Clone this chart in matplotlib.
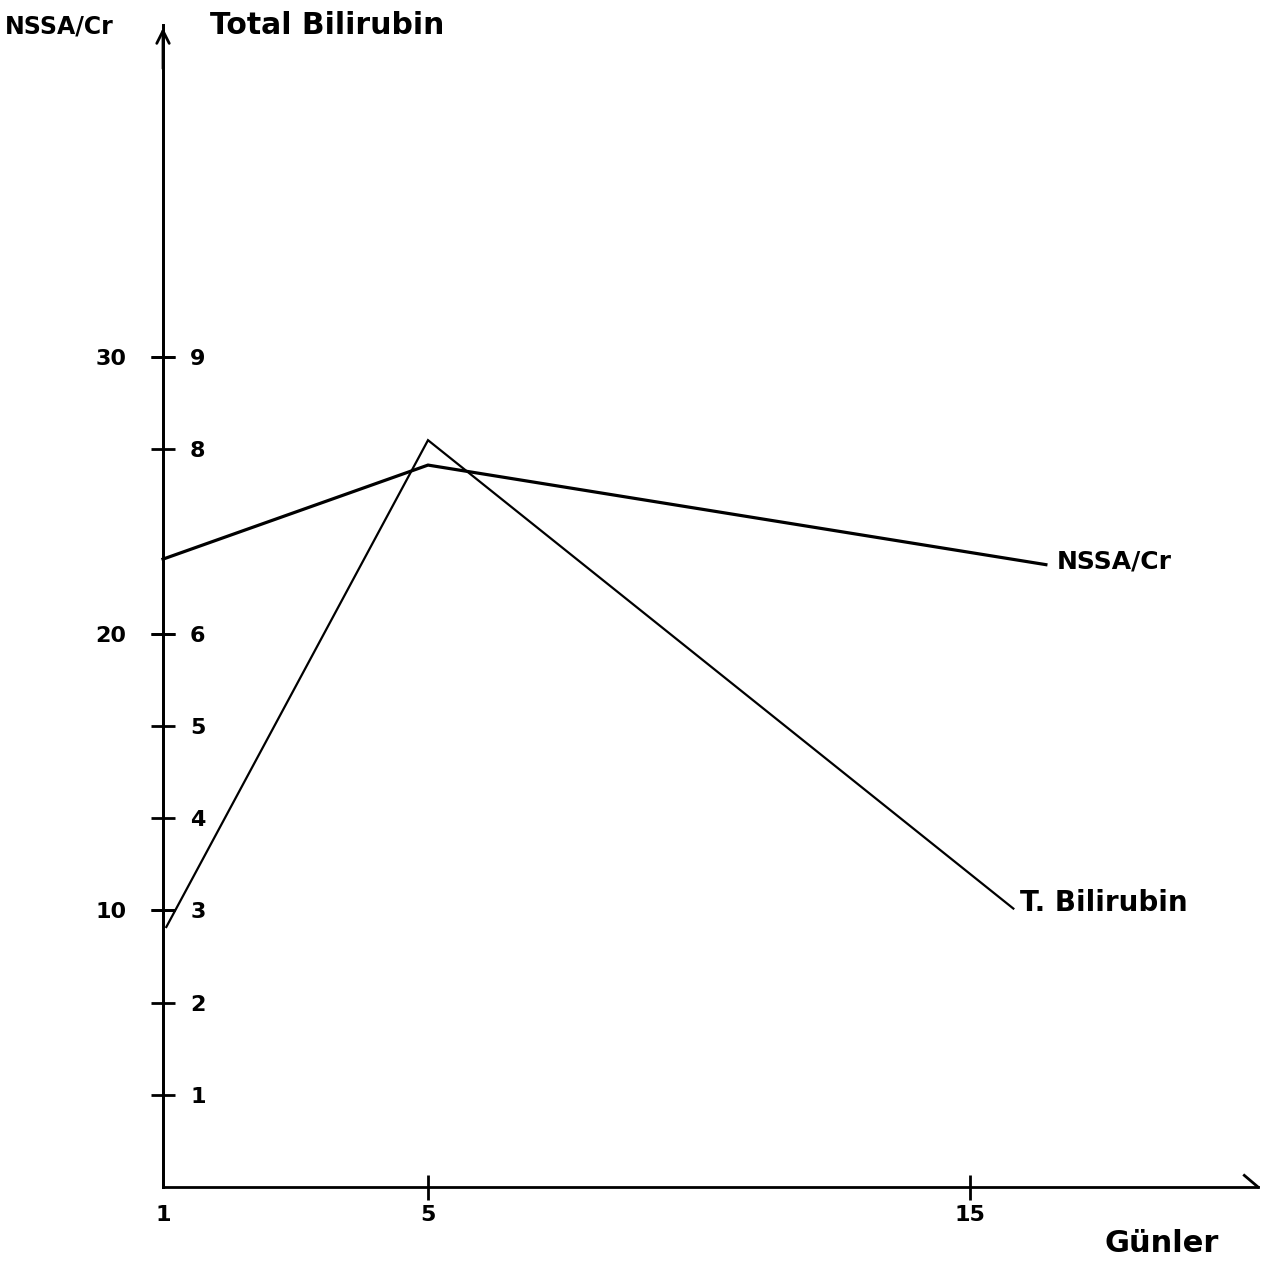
import numpy as np
import matplotlib
matplotlib.use("Agg")
import matplotlib.pyplot as plt

# ---- data ----
nssa_days = [1, 5, 16.4]
nssa_vals = [22.7, 26.1, 22.5]
bili_days = [1.05, 5, 15.8]
bili_vals = [2.82, 8.1, 3.02]

x_ticks = [1, 5, 15]
x_ticklabels = ["1", "5", "15"]
nssa_ticks = [10, 20, 30]
bili_ticks = [1, 2, 3, 4, 5, 6, 8, 9]

# hand-drawn, uneven day axis: piecewise linear scale
_kd = np.array([-100.0, 1.0, 5.0, 15.0, 200.0])
_kp = np.array([-101 * 66.25, 0.0, 265.0, 807.0, 807.0 + 185 * 54.2])

def fwd(x):
    return np.interp(x, _kd, _kp)

def inv(p):
    return np.interp(p, _kp, _kd)

W, H = 1272, 1262
fig = plt.figure(figsize=(W / 100, H / 100), dpi=100)
fig.patch.set_facecolor("white")

x0, y0 = 163, 1187
x1, y1 = 1258, 25
ax = fig.add_axes([x0 / W, 1 - y0 / H, (x1 - x0) / W, (y0 - y1) / H])
bili_top = (y0 - y1) / 92.2
ax.set_xscale("function", functions=(fwd, inv))
ax.set_xlim(1, inv(x1 - x0))
ax.set_ylim(0, bili_top * 10 / 3)
ax.patch.set_alpha(0)

ax2 = ax.twinx()
ax2.set_ylim(0, bili_top)
ax2.spines["right"].set_position(("axes", 0))

for a in (ax, ax2):
    a.spines["top"].set_visible(False)
ax.spines["right"].set_visible(False)
ax2.spines["left"].set_visible(False)
ax2.spines["bottom"].set_visible(False)
ax.spines["left"].set_linewidth(2.0)
ax.spines["bottom"].set_linewidth(2.0)
ax2.spines["right"].set_linewidth(2.0)

tfont = dict(fontsize=16, fontweight="bold", family="DejaVu Sans")

ax.set_xticks(x_ticks)
ax.set_xticklabels(x_ticklabels, **tfont)
ax.xaxis.set_minor_locator(matplotlib.ticker.NullLocator())
ax.tick_params(axis="x", direction="inout", length=18, width=2, pad=4)
ax.xaxis.get_major_ticks()[0].tick1line.set_visible(False)

ax.set_yticks(nssa_ticks)
ax.set_yticklabels([str(v) for v in nssa_ticks], **tfont)
ax.tick_params(axis="y", direction="inout", length=17, width=2, pad=18)

ax2.set_yticks(bili_ticks)
ax2.set_yticklabels([str(v) for v in bili_ticks], **tfont)
ax2.tick_params(axis="y", direction="inout", length=17, width=2, pad=11)

# lines
ax.plot(nssa_days, nssa_vals, color="black", lw=2.3, solid_joinstyle="miter", clip_on=False)
ax2.plot(bili_days, bili_vals, color="black", lw=1.6, solid_joinstyle="miter", clip_on=False)

# end labels
ax.annotate("NSSA/Cr", xy=(nssa_days[-1], nssa_vals[-1]), xytext=(8, 2),
            textcoords="offset points", ha="left", va="center",
            fontsize=18, fontweight="bold")
ax2.annotate("T. Bilirubin", xy=(bili_days[-1], bili_vals[-1]), xytext=(5, 4),
             textcoords="offset points", ha="left", va="center",
             fontsize=20, fontweight="bold")

# axis arrows
ax.annotate("", xy=(0, 1.0), xycoords="axes fraction", xytext=(0, 0.96),
            arrowprops=dict(arrowstyle="->,head_length=0.9,head_width=0.45", lw=2, color="black"))
ax.plot([0.9875, 1.0], [0.010, 0.0], transform=ax.transAxes, color="black", lw=2, clip_on=False)

# titles
fig.text(5 / W, 1 - 27 / H, "NSSA/Cr", fontsize=17, fontweight="bold", ha="left", va="center")
fig.text(210 / W, 1 - 25 / H, "Total Bilirubin", fontsize=21.5, fontweight="bold", ha="left", va="center")
fig.text(1105 / W, 1 - 1243 / H, "Günler", fontsize=22, fontweight="bold", ha="left", va="center")

fig.savefig("out.png", dpi=100, facecolor="white")
